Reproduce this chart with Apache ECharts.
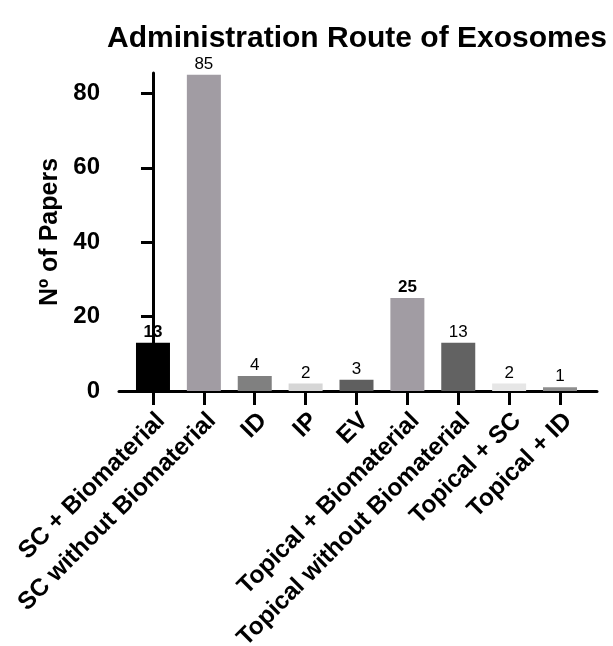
<!DOCTYPE html>
<html>
<head>
<meta charset="utf-8">
<script src="https://cdn.jsdelivr.net/npm/echarts@6/dist/echarts.min.js"></script>
<style>html,body{margin:0;padding:0;background:#fff}#c{width:613px;height:646px}</style>
</head>
<body>
<div id="c"></div>
<script>
var categories = ["SC + Biomaterial", "SC without Biomaterial", "ID", "IP", "EV", "Topical + Biomaterial", "Topical without Biomaterial", "Topical + SC", "Topical + ID"];
var values = [13, 85, 4, 2, 3, 25, 13, 2, 1];
var barColors = ["#000000", "#a19ca3", "#808080", "#d6d6d6", "#5f5f5f", "#a19ca3", "#626262", "#e6e6e6", "#8e8e8e"];
var yTicks = [0, 20, 40, 60, 80];
var boldLabelIdx = [0, 5];

var FONT = "Liberation Sans, Arial, sans-serif";
var catIdx = categories.map(function (c, i) { return i; });
var labelPos = catIdx.map(function (i) { return i + 0.16; });

var data = values.map(function (v, i) {
  return {
    value: [i, v],
    itemStyle: { color: barColors[i] },
    label: { fontWeight: boldLabelIdx.indexOf(i) >= 0 ? 'bold' : 'normal' }
  };
});

var chart = echarts.init(document.getElementById('c'), null, { renderer: 'canvas' });
chart.setOption({
  animation: false,
  backgroundColor: '#ffffff',
  title: {
    text: 'Administration Route of Exosomes',
    left: 352, top: 19, textAlign: 'center',
    textStyle: { fontFamily: FONT, fontSize: 30, fontWeight: 'bold', color: '#000' }
  },
  grid: { left: 119, right: 16, top: 73, bottom: 255, containLabel: false, outerBoundsMode: 'none' },
  xAxis: {
    type: 'value',
    min: -0.668, max: 8.727,
    splitLine: { show: false },
    axisLine: { show: true, lineStyle: { color: '#000', width: 3 } },
    axisTick: { show: true, length: 14, lineStyle: { color: '#000', width: 3 }, customValues: catIdx },
    axisLabel: {
      customValues: labelPos,
      rotate: 45, margin: 26,
      fontFamily: FONT, fontSize: 24.5, fontWeight: 'bold', color: '#000',
      formatter: function (v) { return categories[Math.round(v)] || ''; }
    }
  },
  yAxis: {
    type: 'value',
    min: 0, max: 85.5,
    name: 'Nº of Papers',
    nameLocation: 'middle', nameGap: 54,
    nameTextStyle: { fontFamily: FONT, fontSize: 25, fontWeight: 'bold', color: '#000' },
    splitLine: { show: false },
    axisLine: { show: true, lineStyle: { color: '#000', width: 3 } },
    axisTick: { show: true, length: 12, lineStyle: { color: '#000', width: 3 }, customValues: yTicks },
    axisLabel: {
      customValues: yTicks, margin: 19,
      fontFamily: FONT, fontSize: 24, fontWeight: 'bold', color: '#000'
    }
  },
  series: [{
    type: 'bar',
    barWidth: 34,
    data: data,
    label: {
      show: true, position: 'top', distance: 2,
      fontFamily: FONT, fontSize: 17, color: '#000',
      formatter: function (p) { return p.value[1]; }
    }
  }]
});
</script>
</body>
</html>
